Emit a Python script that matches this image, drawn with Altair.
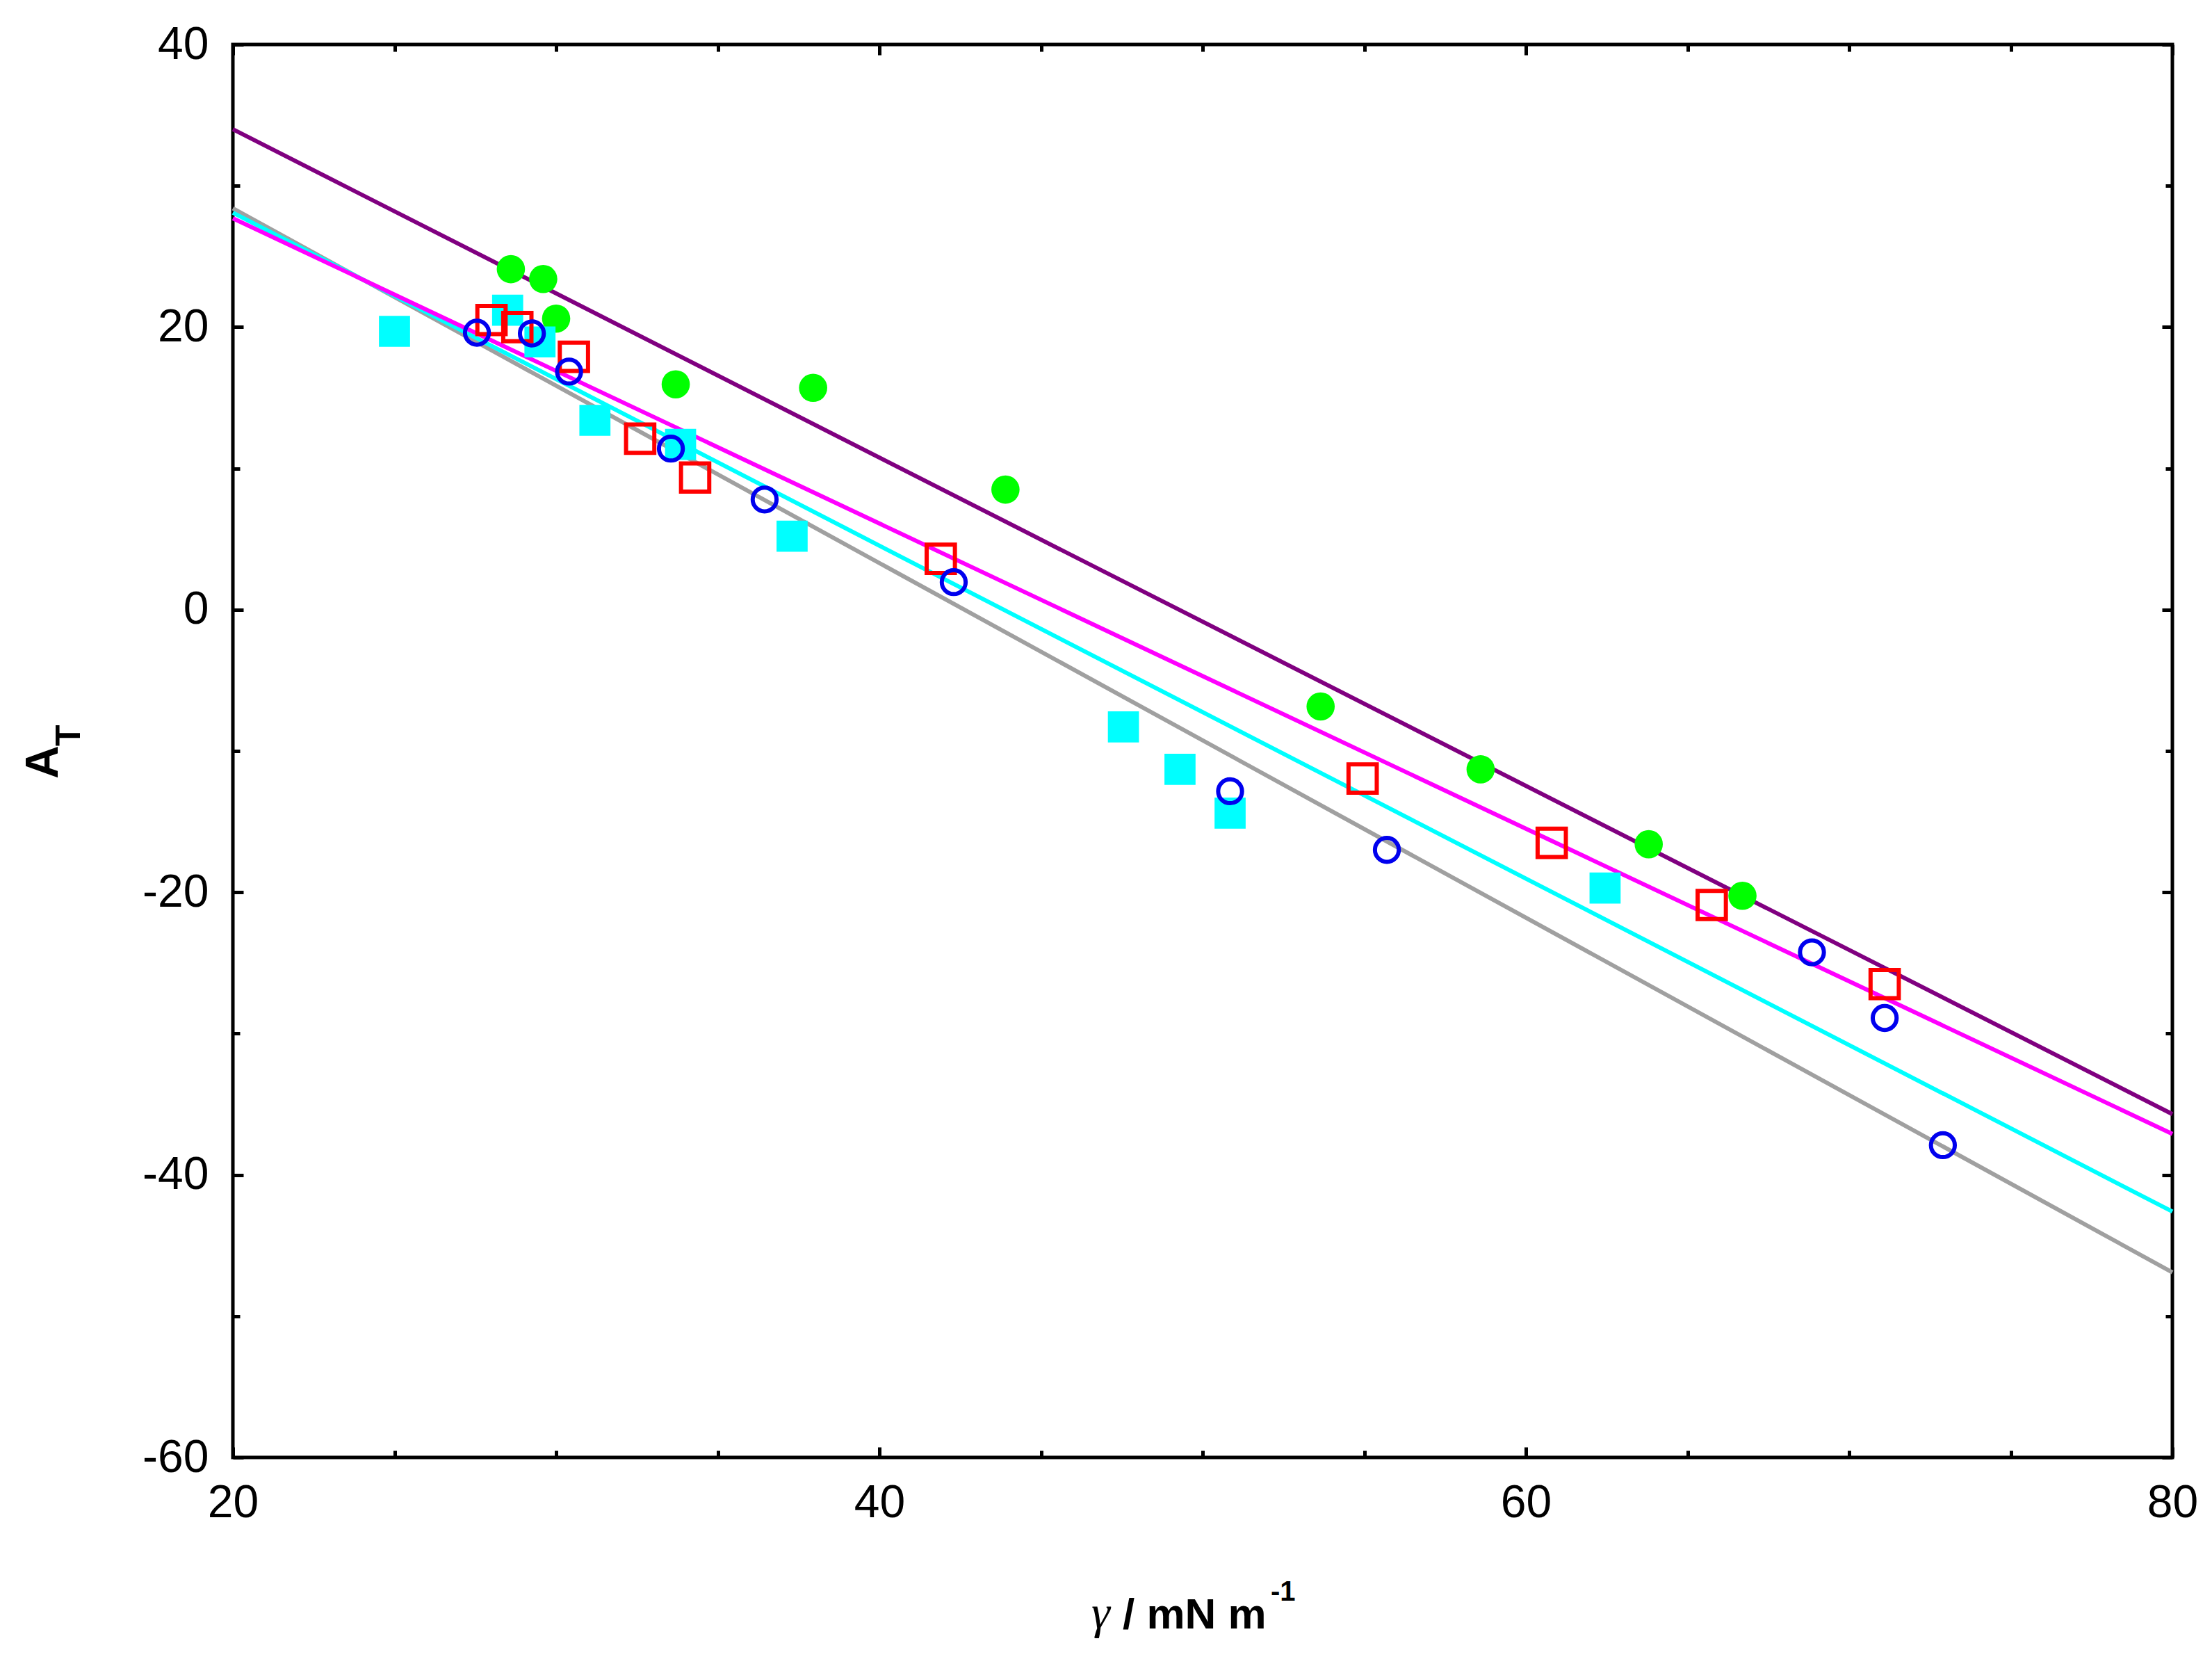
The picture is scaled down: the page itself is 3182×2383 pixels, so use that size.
import altair as alt
import pandas as pd

FONT = "Liberation Sans"

# fitted straight lines (value at gamma = 20 and gamma = 80)
fit_x = [20, 80]
fit_names = ["gray", "cyan", "magenta", "purple"]
fit_colors = ["#A0A0A0", "#00FFFF", "#FF00FF", "#800080"]
fit_gray = [28.4, -46.9]
fit_cyan = [28.1, -42.6]
fit_magenta = [27.7, -37.1]
fit_purple = [34.0, -35.7]

# measured points
green_x = [28.6, 29.6, 30.0, 33.7, 37.95, 43.9, 53.65, 58.6, 63.8, 66.7]
green_y = [24.1, 23.4, 20.6, 15.95, 15.7, 8.5, -6.85, -11.3, -16.6, -20.25]

cyan_x = [25.0, 28.5, 29.5, 31.2, 33.85, 37.3, 47.55, 49.3, 50.85, 62.45]
cyan_y = [19.7, 21.2, 18.95, 13.4, 11.7, 5.2, -8.3, -11.3, -14.4, -19.7]

red_x = [28.0, 28.8, 30.55, 32.6, 34.3, 41.9, 54.95, 60.8, 65.75, 71.1]
red_y = [20.5, 20.0, 17.9, 12.1, 9.35, 3.6, -11.95, -16.5, -20.9, -26.5]

blue_x = [27.55, 29.25, 30.4, 33.55, 36.45, 42.3, 50.85, 55.7, 68.85, 71.1, 72.9]
blue_y = [19.6, 19.55, 16.85, 11.4, 7.8, 1.95, -12.85, -17.0, -24.25, -28.9, -37.9]

x_major = [20, 40, 60, 80]
x_minor = [25, 30, 35, 45, 50, 55, 65, 70, 75]
y_major = [-60, -40, -20, 0, 20, 40]
y_minor = [-50, -30, -10, 10, 30]

W, H = 2790, 2032

fit_rows = []
for name, ys_ in zip(fit_names, [fit_gray, fit_cyan, fit_magenta, fit_purple]):
    for xv, yv in zip(fit_x, ys_):
        fit_rows.append({"fit": name, "x": xv, "y": yv})
fit_df = pd.DataFrame(fit_rows)

green_df = pd.DataFrame({"x": green_x, "y": green_y})
cyan_df = pd.DataFrame({"x": cyan_x, "y": cyan_y})
red_df = pd.DataFrame({"x": red_x, "y": red_y})
blue_df = pd.DataFrame({"x": blue_x, "y": blue_y})

xs = alt.Scale(domain=[20, 80], nice=False, zero=False)
ys = alt.Scale(domain=[-60, 40], nice=False, zero=False)


def ax(orient, values, size, labels, pad=0):
    return alt.Axis(
        orient=orient, values=values, tickSize=alt.ExprRef(expr=str(-size)),
        labels=labels, title=None, grid=False, domain=False, tickWidth=5,
        tickColor="black", labelFont=FONT, labelFontSize=66, labelColor="black",
        labelPadding=pad, labelFlush=False, labelOverlap=False,
        labelExpr="'' + datum.value",
    )


lines = alt.Chart(fit_df).mark_line(strokeWidth=6).encode(
    x=alt.X("x:Q", scale=xs, axis=ax("bottom", x_minor, 10, False)),
    y=alt.Y("y:Q", scale=ys, axis=ax("left", y_minor, 10, False)),
    color=alt.Color("fit:N", scale=alt.Scale(domain=fit_names, range=fit_colors), legend=None),
)

ticks_minor_tr = alt.Chart(fit_df).mark_point(opacity=0).encode(
    x=alt.X("x:Q", scale=xs, axis=ax("top", x_minor, 10, False)),
    y=alt.Y("y:Q", scale=ys, axis=ax("right", y_minor, 10, False)),
)
ticks_major_tr = alt.Chart(fit_df).mark_point(opacity=0).encode(
    x=alt.X("x:Q", scale=xs, axis=ax("top", x_major, 15, False)),
    y=alt.Y("y:Q", scale=ys, axis=ax("right", y_major, 15, False)),
)

green = alt.Chart(green_df).mark_circle(size=1650, color="#00FF00", opacity=1).encode(
    x=alt.X("x:Q", scale=xs, axis=ax("bottom", x_major, 15, True, 48)),
    y=alt.Y("y:Q", scale=ys, axis=ax("left", y_major, 15, True, 50)),
)
cyan = alt.Chart(cyan_df).mark_square(size=2000, color="#00FFFF", opacity=1).encode(
    x=alt.X("x:Q", scale=xs, axis=None),
    y=alt.Y("y:Q", scale=ys, axis=None),
)
red = alt.Chart(red_df).mark_point(shape="square", filled=False, size=1650, color="#FF0000",
                                    strokeWidth=6, opacity=1).encode(
    x=alt.X("x:Q", scale=xs, axis=None),
    y=alt.Y("y:Q", scale=ys, axis=None),
)
blue = alt.Chart(blue_df).mark_point(shape="circle", filled=False, size=1180, color="#0000EE",
                                     strokeWidth=6, opacity=1).encode(
    x=alt.X("x:Q", scale=xs, axis=None),
    y=alt.Y("y:Q", scale=ys, axis=None),
)

one = pd.DataFrame({"k": [0]})
ytitle_a = alt.Chart(one).mark_text(text="A", font=FONT, fontSize=66, fontWeight="bold",
                                    angle=270, align="left", baseline="alphabetic", color="black").encode(
    x=alt.value(-252), y=alt.value(1056))
ytitle_t = alt.Chart(one).mark_text(text="T", font=FONT, fontSize=50, fontWeight="bold",
                                    angle=270, align="left", baseline="alphabetic", color="black").encode(
    x=alt.value(-220), y=alt.value(1009))
xtitle_g = alt.Chart(one).mark_text(text="γ", font="Liberation Serif", fontSize=68, fontStyle="italic",
                                    align="left", baseline="alphabetic", color="black").encode(
    x=alt.value(1235), y=alt.value(2278))
xtitle = alt.Chart(one).mark_text(text="/ mN m", font=FONT, fontSize=62, fontWeight="bold",
                                  align="left", baseline="alphabetic", color="black").encode(
    x=alt.value(1280), y=alt.value(2278))
xtitle_sup = alt.Chart(one).mark_text(text="-1", font=FONT, fontSize=40, fontWeight="bold",
                                      align="left", baseline="alphabetic", color="black").encode(
    x=alt.value(1493), y=alt.value(2238))

chart = alt.layer(
    lines, ticks_minor_tr, ticks_major_tr, green, cyan, red, blue,
    ytitle_a, ytitle_t, xtitle_g, xtitle, xtitle_sup,
).resolve_axis(x="independent", y="independent").properties(
    width=W, height=H, autosize="none",
    padding={"left": 327, "top": 56, "right": 49, "bottom": 279},
    background="white",
).configure_view(stroke="black", strokeWidth=5)

chart.save("out.html", embed_options={"renderer": "svg", "actions": False})
